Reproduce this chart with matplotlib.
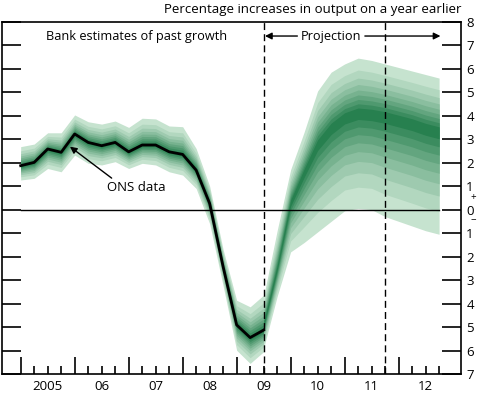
import numpy as np
import matplotlib
matplotlib.use("Agg")
import matplotlib.pyplot as plt
import matplotlib.colors as mcolors

plt.rcParams['font.family'] = ['Open Sans', 'DejaVu Sans']

# quarters: 0 = first quarter of 2005 ... 31 = third quarter of 2012
year_labels = ['2005', '06', '07', '08', '09', '10', '11', '12']

# ONS data (annual growth, %), quarters 0..18
ons = [1.87, 2.01, 2.58, 2.44, 3.22, 2.86, 2.72, 2.86, 2.46, 2.75,
       2.75, 2.46, 2.35, 1.68, 0.26, -2.44, -4.91, -5.45, -5.13]

# Bank estimates of past growth: outer edges of the fan (5th/95th)
hist_upper = [2.68, 2.79, 3.27, 3.27, 4.03, 3.74, 3.64, 3.77, 3.50, 3.89,
              3.86, 3.56, 3.53, 2.60, 1.00, -1.70, -3.86, -4.14, -3.64]
hist_lower = [1.26, 1.33, 1.75, 1.61, 2.32, 1.97, 1.90, 2.04, 1.75, 1.97,
              1.90, 1.61, 1.47, 0.90, -0.60, -3.25, -5.99, -6.55, -6.05]

# Projection, quarters 18..31
proj_mode = [-4.90, -2.50, 0.30, 1.60, 2.80, 3.50, 3.95, 4.15, 4.10, 4.00,
             3.85, 3.70, 3.50, 3.35]
proj_upper = [-3.70, -0.90, 1.70, 3.30, 5.05, 5.85, 6.20, 6.45, 6.35, 6.20,
              6.05, 5.90, 5.75, 5.60]
proj_lower = [-5.90, -3.70, -1.80, -1.40, -0.95, -0.50, -0.05, 0.05, 0.00, -0.30,
              -0.50, -0.70, -0.90, -1.05]

# normal quantiles for the 10%, 20%, ... 90% bands
zq = np.array([0.1257, 0.2533, 0.3853, 0.5244, 0.6745, 0.8416, 1.0364, 1.2816, 1.6449])
frac = zq / zq[-1]

light = np.array(mcolors.to_rgb('#c6e3cf'))
dark = np.array(mcolors.to_rgb('#27804f'))
band_cols = [tuple(dark + (light - dark) * k / 8) for k in range(9)]

fig = plt.figure(figsize=(4.8, 3.97), dpi=100)
ax = fig.add_axes([1.5 / 480, 1 - 374 / 397, 459.2 / 480, 352.3 / 397])

def draw_fan(x, centre, upper, lower):
    centre = np.asarray(centre)
    up = np.asarray(upper) - centre
    lo = centre - np.asarray(lower)
    for k in range(8, -1, -1):
        ax.fill_between(x, centre - lo * frac[k], centre + up * frac[k],
                        color=band_cols[k], lw=0, zorder=2)

xh = np.arange(len(ons))
xp = np.arange(18, 18 + len(proj_mode))
draw_fan(xh, ons, hist_upper, hist_lower)
draw_fan(xp, proj_mode, proj_upper, proj_lower)

ax.plot(xh, ons, color='black', lw=2, zorder=5)
ax.plot([0, 31], [0, 0], color='black', lw=1, zorder=4)
for xv in [18, 27]:
    ax.axvline(xv, color='black', lw=1, ls=(0, (5, 3)), zorder=4)

ax.set_xlim(-1.42, 32.6)
ax.set_ylim(-7, 8)

# axes and ticks
for s in ax.spines.values():
    s.set_linewidth(1.2)
ax.set_xticks(np.arange(0, 29, 4))
ax.set_xticks(np.arange(0, 32), minor=True)
ax.tick_params(axis='x', which='major', direction='in', length=12, width=1.2, labelbottom=False)
ax.tick_params(axis='x', which='minor', direction='in', length=6, width=1.2)
for i, lab in enumerate(year_labels):
    ax.text(2 + 4 * i, -7.55, lab, ha='center', va='center', fontsize=9.5)

yt = np.arange(-7, 9)
ax.set_yticks(yt)
ax.set_yticklabels([str(abs(v)) for v in yt])
ax.tick_params(axis='y', direction='in', length=14, width=1.2, left=True, right=True,
               labelleft=False, labelright=True, labelsize=9.5, pad=4)
ax.text(1.028, (0.52 + 7) / 15, '+', transform=ax.transAxes, ha='center', va='center', fontsize=7)
ax.text(1.028, (-0.47 + 7) / 15, '\u2212', transform=ax.transAxes, ha='center', va='center', fontsize=7)

fig.text(0.962, 0.977, 'Percentage increases in output on a year earlier',
         ha='right', va='center', fontsize=9.5)
ax.text(8.6, 7.39, 'Bank estimates of past growth', ha='center', va='center', fontsize=9.2)
ax.text(23.0, 7.39, 'Projection', ha='center', va='center', fontsize=9.2)
ax.annotate('', xy=(18.1, 7.39), xytext=(20.5, 7.39),
            arrowprops=dict(arrowstyle='-|>', color='black', lw=1, mutation_scale=10, shrinkA=0, shrinkB=0))
ax.annotate('', xy=(31.1, 7.39), xytext=(25.5, 7.39),
            arrowprops=dict(arrowstyle='-|>', color='black', lw=1, mutation_scale=10, shrinkA=0, shrinkB=0))
ax.text(8.54, 0.92, 'ONS data', ha='center', va='center', fontsize=9.5)
ax.annotate('', xy=(3.65, 2.68), xytext=(6.74, 1.34),
            arrowprops=dict(arrowstyle='-|>', color='black', lw=1, mutation_scale=10, shrinkA=0, shrinkB=0))

fig.savefig('out.png', dpi=100)
